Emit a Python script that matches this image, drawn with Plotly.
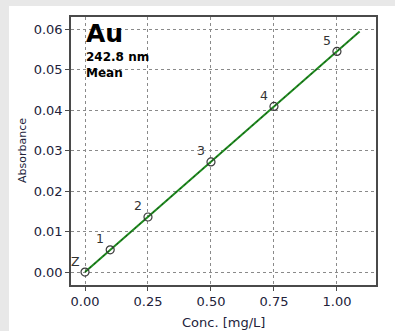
import plotly.graph_objects as go

# Calibration standards for Au at 242.8 nm
std_labels = ["Z", "1", "2", "3", "4", "5"]
conc = [0.0, 0.1, 0.25, 0.5, 0.75, 1.0]          # mg/L
absorb = [0.0, 0.0055, 0.0136, 0.0272, 0.0409, 0.0545]

# Calibration fit line end points
fit_x = [0.0, 1.09]
fit_y = [0.0, 0.0594]

x_ticks = [0.0, 0.25, 0.5, 0.75, 1.0]
y_ticks = [0.0, 0.01, 0.02, 0.03, 0.04, 0.05, 0.06]

FONT = "DejaVu Sans"
TXT = "#22223a"

# Plot area geometry in pixels (used for paper-coordinate placements)
L, R, T, B = 71, 19, 17, 46
W, H = 395, 331
PW, PH = W - L - R, H - T - B

fig = go.Figure()

fig.add_trace(go.Scatter(
    x=fit_x, y=fit_y, mode="lines",
    line=dict(color="#1e8c1e", width=2), hoverinfo="skip", showlegend=False))
fig.add_trace(go.Scatter(
    x=fit_x, y=fit_y, mode="lines",
    line=dict(color="#1a3a1a", width=1, dash="2px,4px"), hoverinfo="skip",
    showlegend=False))
fig.add_trace(go.Scatter(
    x=conc, y=absorb, mode="markers",
    marker=dict(symbol="circle-open", size=8, color="#3a3a3a",
                line=dict(color="#3a3a3a", width=1.2)),
    showlegend=False))

for lab, cx, cy in zip(std_labels, conc, absorb):
    fig.add_annotation(x=cx, y=cy, text=lab, showarrow=False,
                       xshift=-10, yshift=11,
                       font=dict(family=FONT, size=12.5, color="#333333"))

# Element / wavelength caption
fig.add_annotation(xref="paper", yref="paper", x=0.043, y=1.0,
                   xanchor="left", yanchor="top", showarrow=False,
                   text="<b>Au</b>", font=dict(family=FONT, size=25, color="#000000"))
fig.add_annotation(xref="paper", yref="paper", x=0.043, y=0.885,
                   xanchor="left", yanchor="top", showarrow=False, align="left",
                   text="<b>242.8 nm<br>Mean</b>",
                   font=dict(family=FONT, size=12, color="#000000"))

# Axis titles
fig.add_annotation(xref="paper", yref="paper", x=0.5, y=(H - B - 322) / PH,
                   xanchor="center", yanchor="middle", showarrow=False,
                   text="Conc. [mg/L]", font=dict(family=FONT, size=13, color=TXT))
fig.add_annotation(xref="paper", yref="paper", x=(22 - L) / PW, y=0.5,
                   xanchor="center", yanchor="middle", showarrow=False,
                   textangle=-90, text="Absorbance",
                   font=dict(family=FONT, size=11, color=TXT))

# Light grey frame strips at the left and top edges
fig.add_shape(type="rect", xref="paper", yref="paper", layer="below",
              x0=-L / PW, x1=(9 - L) / PW, y0=-B / PH - 0.01, y1=(H - B) / PH + 0.01,
              fillcolor="#e8e8e8", line=dict(width=0))
fig.add_shape(type="rect", xref="paper", yref="paper", layer="below",
              x0=-L / PW, x1=1 + R / PW + 0.01, y0=(H - B - 6) / PH, y1=(H - B) / PH + 0.01,
              fillcolor="#e8e8e8", line=dict(width=0))

axis_common = dict(
    showline=True, mirror=True, linecolor="#4a4a4a", linewidth=1.5,
    showgrid=True, gridcolor="#8a8a8a", gridwidth=1, griddash="3px,3px",
    zeroline=False, ticks="outside", ticklen=4, tickcolor="#4a4a4a",
    tickfont=dict(family=FONT, size=13, color=TXT), automargin=False,
)

fig.update_xaxes(range=[-0.0556, 1.155], tickvals=x_ticks,
                 ticktext=[f"{v:.2f}" for v in x_ticks], **axis_common)
fig.update_yaxes(range=[-0.0032, 0.063], tickvals=y_ticks,
                 ticktext=[f"{v:.2f}" for v in y_ticks], **axis_common)

fig.update_layout(
    width=W, height=H,
    margin=dict(l=L, r=R, t=T, b=B),
    paper_bgcolor="#ffffff", plot_bgcolor="#ffffff",
    showlegend=False,
)

fig.write_html("out.html")
